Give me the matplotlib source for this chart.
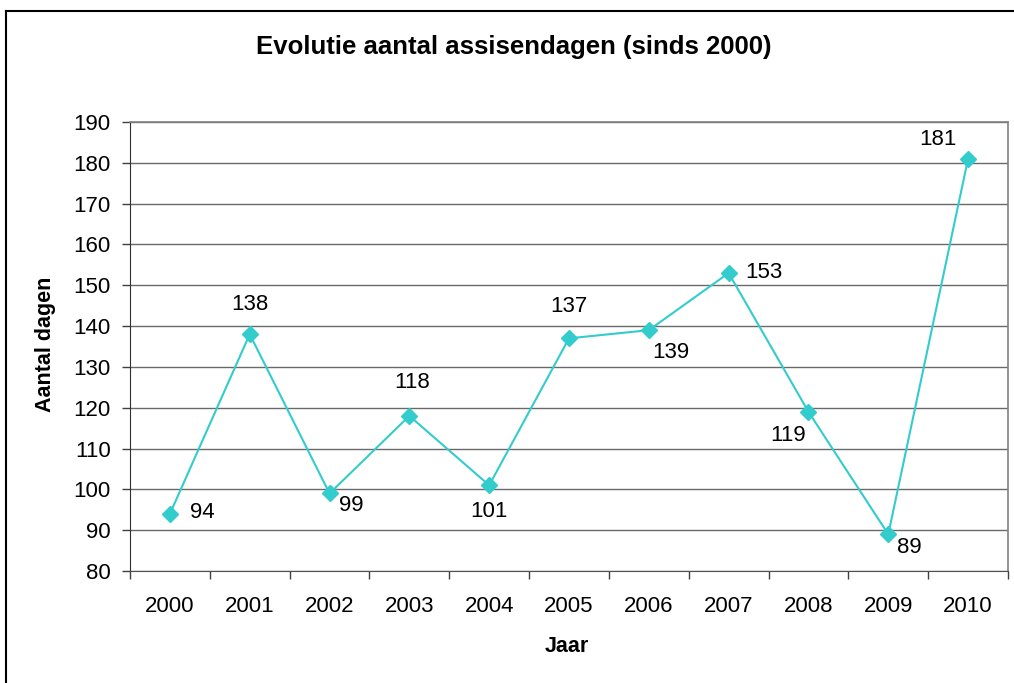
import matplotlib
matplotlib.use('Agg')
from matplotlib import pyplot as plt
from matplotlib.lines import Line2D
import numpy as np

plt.rcParams['font.family'] = ['Liberation Sans', 'DejaVu Sans']

# data
jaren = ['2000', '2001', '2002', '2003', '2004', '2005', '2006', '2007', '2008', '2009', '2010']
dagen = [94, 138, 99, 118, 101, 137, 139, 153, 119, 89, 181]
y_ticks = [80, 90, 100, 110, 120, 130, 140, 150, 160, 170, 180, 190]

# where each data label sits relative to its point (pixels)
label_offsets = [(32, 1), (0, 30), (22, -12), (3, 33), (0, -26), (0, 32),
                 (22, -22), (35, 1), (-20, -24), (21, -13), (-30, 19)]

W, H = 1014, 683
fig = plt.figure(figsize=(W / 100, H / 100), dpi=100)
ax = fig.add_axes([130 / W, (H - 571) / H, (1008 - 130) / W, (571 - 122) / H])

x = np.arange(len(jaren))
turq = '#33CCCC'
ax.plot(x, dagen, color=turq, lw=1.5, marker='D', markersize=8.5, zorder=3, clip_on=False)

for xi, v, (dx, dy) in zip(x, dagen, label_offsets):
    ax.annotate(str(v), (xi, v), xytext=(dx, dy), textcoords='offset pixels',
                ha='center', va='center', fontsize=16, color='black')

ax.set_xlim(-0.5, len(jaren) - 0.5)
ax.set_ylim(y_ticks[0], y_ticks[-1])
ax.set_yticks(y_ticks)
ax.set_xticks(x)
ax.set_xticklabels(jaren)
ax.set_xticks(np.arange(-0.5, len(jaren)), minor=True)
ax.tick_params(axis='x', which='major', length=0, pad=18, labelsize=16)
ax.tick_params(axis='x', which='minor', length=6, width=1, color='#404040')
ax.tick_params(axis='y', length=6, width=1, pad=8, labelsize=16, color='#404040')

ax.yaxis.grid(True, color='#6a6a6a', lw=1)
ax.set_axisbelow(True)
for side in ['top', 'right']:
    ax.spines[side].set_color('#808080')
    ax.spines[side].set_linewidth(1.2)
ax.spines['left'].set_color('#303030')
ax.spines['bottom'].set_color('#505050')

fig.text(514 / W, 1 - 47 / H, 'Evolutie aantal assisendagen (sinds 2000)', fontsize=18.5,
         fontweight='bold', ha='center', va='center')
fig.text(46 / W, 1 - 344 / H, 'Aantal dagen', rotation=90, fontsize=15.5, fontweight='bold',
         ha='center', va='center')
fig.text(567 / W, 1 - 646 / H, 'Jaar', fontsize=15.5, fontweight='bold', ha='center', va='center')

# outer chart frame (left and top edges visible)
fig.add_artist(Line2D([6 / W, 6 / W], [0, 1 - 11 / H], color='black', lw=1.5))
fig.add_artist(Line2D([6 / W, 1], [1 - 11 / H, 1 - 11 / H], color='black', lw=1.5))

fig.savefig('out.png', dpi=100)
